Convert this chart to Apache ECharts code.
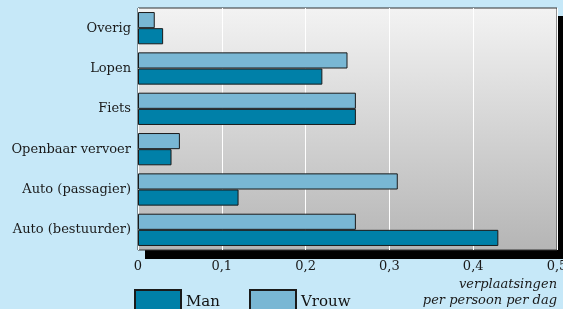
<!DOCTYPE html>
<html>
<head>
<meta charset="utf-8">
<script src="https://cdn.jsdelivr.net/npm/echarts@6/dist/echarts.min.js"></script>
<style>
  html, body { margin: 0; padding: 0; background: #c6e8f8; }
  #chart { width: 563px; height: 309px; }
</style>
</head>
<body>
<div id="chart"></div>
<script>
// categorieen van boven naar beneden
var categories = ['Overig', 'Lopen', 'Fiets', 'Openbaar vervoer', 'Auto (passagier)', 'Auto (bestuurder)'];
var vrouw = [0.02, 0.25, 0.26, 0.05, 0.31, 0.26];
var man = [0.03, 0.22, 0.26, 0.04, 0.12, 0.43];
var xTicks = ['0', '0,1', '0,2', '0,3', '0,4', '0,5'];
var unitLines = ['verplaatsingen', 'per persoon per dag'];

var font = 'DejaVu Serif';
var chart = echarts.init(document.getElementById('chart'));

var unitStyle = { fontFamily: font, fontStyle: 'italic', fontSize: 13, fill: '#1a1a1a' };

chart.setOption({
  backgroundColor: '#c6e8f8',
  animation: false,
  graphic: [{
    type: 'text', right: 6, top: 278,
    style: Object.assign({ text: unitLines[0] }, unitStyle)
  }, {
    type: 'text', right: 6, top: 294,
    style: Object.assign({ text: unitLines[1] }, unitStyle)
  }],
  legend: [{
    data: ['Man'],
    left: 134, top: 289, padding: 0,
    icon: 'rect',
    itemWidth: 46, itemHeight: 24,
    textStyle: { fontFamily: font, fontSize: 15, color: '#111' }
  }, {
    data: ['Vrouw'],
    left: 249, top: 289, padding: 0,
    icon: 'rect',
    itemWidth: 46, itemHeight: 24,
    textStyle: { fontFamily: font, fontSize: 15, color: '#111' }
  }],
  grid: [{
    // schaduw
    show: true,
    z: -1,
    left: 145, right: -2, top: 16, bottom: 50,
    borderWidth: 0,
    backgroundColor: '#000',
    outerBoundsMode: 'none',
    containLabel: false
  }, {
    show: true,
    left: 138, right: 6, top: 8, bottom: 59,
    borderColor: '#333',
    borderWidth: 1,
    outerBoundsMode: 'none',
    containLabel: false,
    backgroundColor: {
      type: 'linear', x: 0, y: 0, x2: 0, y2: 1,
      colorStops: [{ offset: 0, color: '#f3f3f3' }, { offset: 1, color: '#b5b5b5' }]
    }
  }],
  xAxis: [{
    gridIndex: 0, type: 'value', show: false
  }, {
    gridIndex: 1,
    type: 'value',
    min: 0, max: 0.5, interval: 0.1,
    axisLine: { show: false },
    axisTick: { show: false },
    splitLine: { lineStyle: { color: '#ffffff', width: 1 } },
    axisLabel: {
      margin: 10,
      fontFamily: font, fontSize: 13, color: '#1a1a1a',
      formatter: function (v) { return xTicks[Math.round(v * 10)]; }
    }
  }],
  yAxis: [{
    gridIndex: 0, type: 'category', show: false, data: categories
  }, {
    gridIndex: 1,
    type: 'category',
    inverse: true,
    data: categories,
    axisLine: { show: false },
    axisTick: { show: false },
    axisLabel: { margin: 7, fontFamily: font, fontSize: 13, color: '#1a1a1a' }
  }],
  series: [{
    name: 'Vrouw',
    type: 'bar',
    xAxisIndex: 1, yAxisIndex: 1,
    data: vrouw,
    barGap: '0%',
    barCategoryGap: '20%',
    itemStyle: { color: '#79b7d4', borderColor: '#1a1a1a', borderWidth: 1 }
  }, {
    name: 'Man',
    type: 'bar',
    xAxisIndex: 1, yAxisIndex: 1,
    data: man,
    barGap: '0%',
    barCategoryGap: '20%',
    itemStyle: { color: '#0080a8', borderColor: '#1a1a1a', borderWidth: 1 }
  }]
});
</script>
</body>
</html>
